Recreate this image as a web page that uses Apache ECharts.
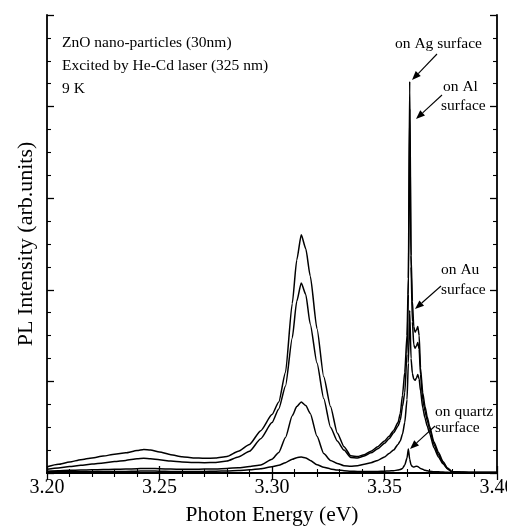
<!DOCTYPE html>
<html>
<head>
<meta charset="utf-8">
<script src="https://cdn.jsdelivr.net/npm/echarts@6/dist/echarts.min.js"></script>
<style>
  html, body { margin: 0; padding: 0; background: #fff; }
  #chart { width: 507px; height: 531px; }
</style>
</head>
<body>
<div id="chart"></div>
<script>
// Photon energy grid (eV), denser around the excitonic peaks
const energy = [
  3.200, 3.205, 3.210, 3.215, 3.220, 3.225, 3.230, 3.235, 3.240, 3.243,
  3.246, 3.250, 3.255, 3.260, 3.265, 3.270, 3.275, 3.280, 3.285, 3.290,
  3.295, 3.300, 3.303, 3.306, 3.309, 3.311, 3.313, 3.315, 3.317, 3.320,
  3.323, 3.326, 3.329, 3.332, 3.335, 3.338, 3.341, 3.344, 3.347, 3.350,
  3.352, 3.354, 3.356, 3.357, 3.358, 3.359, 3.3600, 3.3606, 3.3612, 3.3618,
  3.3624, 3.3630, 3.3636, 3.3642, 3.3648, 3.3654, 3.3660, 3.367, 3.368, 3.369,
  3.370, 3.372, 3.374, 3.376, 3.378, 3.380, 3.385, 3.390, 3.395, 3.400
];

// PL intensity (arb. units) for each substrate
const onAg = [
  0.27, 0.38, 0.48, 0.58, 0.66, 0.74, 0.82, 0.88, 0.98, 1.03,
  1.00, 0.92, 0.80, 0.71, 0.66, 0.64, 0.65, 0.72, 0.95, 1.25,
  1.85, 2.55, 3.10, 4.40, 7.40, 9.30, 10.40, 9.80, 8.60, 6.30,
  4.20, 2.90, 1.75, 1.15, 0.75, 0.72, 0.80, 0.95, 1.15, 1.40,
  1.60, 1.85, 2.20, 2.60, 3.40, 4.40, 6.00, 8.50, 17.10, 9.50,
  7.50, 6.40, 6.15, 6.25, 6.40, 6.00, 4.60, 3.50, 2.90, 2.45,
  2.05, 1.35, 0.90, 0.50, 0.22, 0.06, 0.03, 0.02, 0.02, 0.02
];
const onAl = [
  0.16, 0.22, 0.28, 0.34, 0.39, 0.44, 0.50, 0.55, 0.62, 0.64,
  0.62, 0.58, 0.52, 0.48, 0.46, 0.45, 0.46, 0.52, 0.70, 0.95,
  1.50, 2.20, 2.80, 3.80, 5.90, 7.50, 8.30, 7.80, 6.50, 4.80,
  3.25, 2.00, 1.40, 1.00, 0.68, 0.66, 0.74, 0.88, 1.06, 1.30,
  1.50, 1.75, 2.05, 2.30, 2.90, 3.50, 5.20, 7.80, 15.90, 9.00,
  6.60, 5.60, 5.45, 5.55, 5.70, 5.40, 4.30, 3.20, 2.70, 2.30,
  1.95, 1.25, 0.80, 0.45, 0.20, 0.05, 0.03, 0.02, 0.02, 0.02
];
const onAu = [
  0.08, 0.10, 0.12, 0.13, 0.14, 0.15, 0.16, 0.17, 0.19, 0.20,
  0.20, 0.19, 0.17, 0.16, 0.16, 0.17, 0.18, 0.20, 0.23, 0.28,
  0.35, 0.60, 0.90, 1.55, 2.50, 2.90, 3.10, 2.95, 2.60, 1.60,
  0.85, 0.55, 0.42, 0.32, 0.30, 0.32, 0.38, 0.45, 0.55, 0.70,
  0.85, 1.00, 1.25, 1.40, 1.70, 2.20, 3.20, 4.80, 7.10, 5.00,
  4.35, 4.10, 4.05, 4.15, 4.30, 4.10, 3.60, 2.85, 2.40, 2.05,
  1.75, 1.10, 0.70, 0.40, 0.18, 0.05, 0.03, 0.02, 0.02, 0.02
];
const onQuartz = [
  0.05, 0.05, 0.06, 0.06, 0.06, 0.07, 0.07, 0.07, 0.08, 0.09,
  0.09, 0.08, 0.07, 0.07, 0.07, 0.07, 0.08, 0.09, 0.11, 0.14,
  0.19, 0.27, 0.34, 0.45, 0.60, 0.67, 0.70, 0.66, 0.55, 0.36,
  0.25, 0.18, 0.13, 0.10, 0.08, 0.07, 0.07, 0.07, 0.07, 0.08,
  0.09, 0.10, 0.13, 0.15, 0.20, 0.35, 0.65, 1.05, 0.60, 0.35,
  0.28, 0.26, 0.28, 0.30, 0.28, 0.24, 0.20, 0.16, 0.12, 0.10,
  0.08, 0.06, 0.05, 0.04, 0.03, 0.02, 0.02, 0.02, 0.02, 0.02
];

const FONT = '"Liberation Serif", "Times New Roman", serif';

function pairs(values) {
  return energy.map((e, i) => [e, values[i]]);
}

function spectrum(name, values) {
  return {
    name: name,
    type: 'line',
    data: pairs(values),
    showSymbol: false,
    smooth: 0.2,
    smoothMonotone: 'x',
    lineStyle: { color: '#000', width: 1.5 },
    xAxisIndex: 0,
    yAxisIndex: 0,
    animation: false
  };
}

// Annotation arrow: shaft plus a filled head at (x2, y2)
function arrow(x1, y1, x2, y2) {
  const dx = x2 - x1, dy = y2 - y1;
  const len = Math.hypot(dx, dy);
  const ux = dx / len, uy = dy / len;
  const hl = 9, hw = 3.5;
  const bx = x2 - ux * hl, by = y2 - uy * hl;
  return [
    { type: 'line', shape: { x1: x1, y1: y1, x2: bx, y2: by },
      style: { stroke: '#000', lineWidth: 1.1 } },
    { type: 'polygon',
      shape: { points: [[x2, y2], [bx - uy * hw, by + ux * hw], [bx + uy * hw, by - ux * hw]] },
      style: { fill: '#000' } }
  ];
}

function label(text, x, y, size) {
  return {
    type: 'text', x: x, y: y,
    style: { text: text, font: size + 'px ' + FONT, fill: '#000', verticalAlign: 'middle', align: 'left' }
  };
}

const axisLine = { show: true, lineStyle: { color: '#000', width: 1.8 } };

function xAx(pos, showLabels) {
  return {
    type: 'value', position: pos, min: 3.2, max: 3.4, interval: 0.05,
    axisLine: axisLine,
    axisTick: { show: true, inside: true, length: 7, lineStyle: { color: '#000', width: 1.3 } },
    minorTick: { show: true, splitNumber: 5, length: 4, lineStyle: { color: '#000', width: 1.1 } },
    splitLine: { show: false },
    axisLabel: showLabels ? {
      show: true, margin: 5, color: '#000', fontFamily: FONT, fontSize: 20,
      showMinLabel: true, showMaxLabel: true,
      formatter: v => v.toFixed(2)
    } : { show: false },
    name: showLabels ? 'Photon Energy (eV)' : '',
    nameLocation: 'middle', nameGap: 31,
    nameTextStyle: { color: '#000', fontFamily: FONT, fontSize: 21.5 }
  };
}

function yAx(pos, showName) {
  return {
    type: 'value', position: pos, min: 0, max: 20, interval: 4,
    axisLine: axisLine,
    axisTick: { show: true, inside: true, length: 7, lineStyle: { color: '#000', width: 1.3 } },
    minorTick: { show: true, splitNumber: 4, length: 4, lineStyle: { color: '#000', width: 1.1 } },
    splitLine: { show: false },
    axisLabel: { show: false },
    name: showName ? 'PL Intensity (arb.units)' : '',
    nameLocation: 'middle', nameGap: 10,
    nameTextStyle: { color: '#000', fontFamily: FONT, fontSize: 22 }
  };
}

const chart = echarts.init(document.getElementById('chart'), null, { renderer: 'canvas' });

chart.setOption({
  backgroundColor: '#fff',
  animation: false,
  grid: { left: 47, right: 10, top: 15, bottom: 58, containLabel: false, outerBoundsMode: 'none' },
  xAxis: [xAx('bottom', true), xAx('top', false)],
  yAxis: [yAx('left', true), yAx('right', false)],
  series: [
    spectrum('on quartz surface', onQuartz),
    spectrum('on Au surface', onAu),
    spectrum('on Al surface', onAl),
    spectrum('on Ag surface', onAg)
  ],
  graphic: [
    label('ZnO nano-particles (30nm)', 62, 43, 15.5),
    label('Excited by He-Cd laser (325 nm)', 62, 66, 15.5),
    label('9 K', 62, 89, 15.5),
    label('on Ag surface', 395, 44, 15.5),
    label('on Al', 443, 87, 15.5),
    label('surface', 441, 106, 15.5),
    label('on Au', 441, 270, 15.5),
    label('surface', 441, 290, 15.5),
    label('on quartz', 435, 412, 15.5),
    label('surface', 435, 428, 15.5)
  ].concat(
    arrow(437, 54, 412, 80),
    arrow(442, 95, 416, 119),
    arrow(441, 286, 415, 309),
    arrow(435, 426, 410, 449)
  )
});
</script>
</body>
</html>
